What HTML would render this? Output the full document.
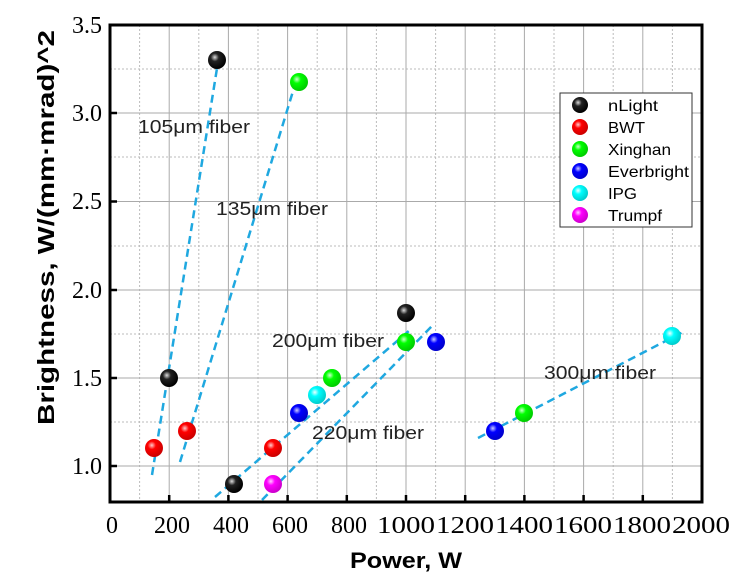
<!DOCTYPE html>
<html><head><meta charset="utf-8"><style>body{margin:0;background:#fff}svg{display:block}</style></head><body>
<svg width="738" height="574" xmlns="http://www.w3.org/2000/svg">
<defs>
<radialGradient id="gk" cx="0.38" cy="0.35" r="0.65"><stop offset="0" stop-color="#ddd"/><stop offset="0.35" stop-color="#222"/><stop offset="1" stop-color="#000"/></radialGradient>
<radialGradient id="gr" cx="0.38" cy="0.35" r="0.65"><stop offset="0" stop-color="#fcc"/><stop offset="0.35" stop-color="#f00"/><stop offset="1" stop-color="#c00"/></radialGradient>
<radialGradient id="gg" cx="0.38" cy="0.35" r="0.65"><stop offset="0" stop-color="#cfc"/><stop offset="0.35" stop-color="#0f0"/><stop offset="1" stop-color="#0c0"/></radialGradient>
<radialGradient id="gb" cx="0.38" cy="0.35" r="0.65"><stop offset="0" stop-color="#ccf"/><stop offset="0.35" stop-color="#00f"/><stop offset="1" stop-color="#00c"/></radialGradient>
<radialGradient id="gc" cx="0.38" cy="0.35" r="0.65"><stop offset="0" stop-color="#eff"/><stop offset="0.35" stop-color="#0ff"/><stop offset="1" stop-color="#0cc"/></radialGradient>
<radialGradient id="gm" cx="0.38" cy="0.35" r="0.65"><stop offset="0" stop-color="#fcf"/><stop offset="0.35" stop-color="#f0f"/><stop offset="1" stop-color="#c0c"/></radialGradient>
</defs>
<g stroke="#bbb" stroke-width="1" stroke-dasharray="2,2">
<line x1="139.6" y1="25" x2="139.6" y2="502"/><line x1="198.8" y1="25" x2="198.8" y2="502"/><line x1="258" y1="25" x2="258" y2="502"/><line x1="317.2" y1="25" x2="317.2" y2="502"/><line x1="376.4" y1="25" x2="376.4" y2="502"/><line x1="435.6" y1="25" x2="435.6" y2="502"/><line x1="494.8" y1="25" x2="494.8" y2="502"/><line x1="554" y1="25" x2="554" y2="502"/><line x1="613.2" y1="25" x2="613.2" y2="502"/><line x1="672.4" y1="25" x2="672.4" y2="502"/>
<line x1="110" y1="69" x2="702" y2="69"/><line x1="110" y1="157" x2="702" y2="157"/><line x1="110" y1="246" x2="702" y2="246"/><line x1="110" y1="334" x2="702" y2="334"/><line x1="110" y1="422" x2="702" y2="422"/>
</g>
<g stroke="#aaa" stroke-width="1">
<line x1="169.2" y1="25" x2="169.2" y2="502"/><line x1="228.4" y1="25" x2="228.4" y2="502"/><line x1="287.6" y1="25" x2="287.6" y2="502"/><line x1="346.8" y1="25" x2="346.8" y2="502"/><line x1="406" y1="25" x2="406" y2="502"/><line x1="465.2" y1="25" x2="465.2" y2="502"/><line x1="524.4" y1="25" x2="524.4" y2="502"/><line x1="583.6" y1="25" x2="583.6" y2="502"/><line x1="642.8" y1="25" x2="642.8" y2="502"/>
<line x1="110" y1="113" x2="702" y2="113"/><line x1="110" y1="201.5" x2="702" y2="201.5"/><line x1="110" y1="290" x2="702" y2="290"/><line x1="110" y1="378" x2="702" y2="378"/><line x1="110" y1="466" x2="702" y2="466"/>
</g>
<g stroke="#000" stroke-width="2.5">
<line x1="169.2" y1="502" x2="169.2" y2="495"/><line x1="228.4" y1="502" x2="228.4" y2="495"/><line x1="287.6" y1="502" x2="287.6" y2="495"/><line x1="346.8" y1="502" x2="346.8" y2="495"/><line x1="406" y1="502" x2="406" y2="495"/><line x1="465.2" y1="502" x2="465.2" y2="495"/><line x1="524.4" y1="502" x2="524.4" y2="495"/><line x1="583.6" y1="502" x2="583.6" y2="495"/><line x1="642.8" y1="502" x2="642.8" y2="495"/>
<line x1="110" y1="113" x2="117" y2="113"/><line x1="110" y1="201.5" x2="117" y2="201.5"/><line x1="110" y1="290" x2="117" y2="290"/><line x1="110" y1="378" x2="117" y2="378"/><line x1="110" y1="466" x2="117" y2="466"/>
</g>
<rect x="110" y="25" width="592" height="477" fill="none" stroke="#000" stroke-width="3"/>
<g stroke="#1fa8e0" stroke-width="2.5" stroke-dasharray="8,5" fill="none">
<line x1="152" y1="475" x2="218" y2="62"/><line x1="180" y1="462" x2="297" y2="78"/><line x1="215" y1="497" x2="410" y2="330"/><line x1="262" y1="500" x2="432" y2="326"/><line x1="478" y1="438" x2="683" y2="332"/>
</g>
<g font-family="Liberation Sans, sans-serif" font-size="18" fill="#222" lengthAdjust="spacingAndGlyphs">
<text x="138" y="133" textLength="112" lengthAdjust="spacingAndGlyphs">105μm fiber</text><text x="216" y="215" textLength="112" lengthAdjust="spacingAndGlyphs">135μm fiber</text><text x="272" y="347" textLength="112" lengthAdjust="spacingAndGlyphs">200μm fiber</text><text x="312" y="439" textLength="112" lengthAdjust="spacingAndGlyphs">220μm fiber</text><text x="544" y="379" textLength="112" lengthAdjust="spacingAndGlyphs">300μm fiber</text>
</g>
<g>
<circle cx="217" cy="60" r="9" fill="url(#gk)"/><circle cx="169" cy="378" r="9" fill="url(#gk)"/><circle cx="406" cy="313" r="9" fill="url(#gk)"/><circle cx="234" cy="484" r="9" fill="url(#gk)"/>
<circle cx="154" cy="448" r="9" fill="url(#gr)"/><circle cx="187" cy="431" r="9" fill="url(#gr)"/><circle cx="273" cy="448" r="9" fill="url(#gr)"/>
<circle cx="299" cy="82" r="9" fill="url(#gg)"/><circle cx="332" cy="378" r="9" fill="url(#gg)"/><circle cx="406" cy="342" r="9" fill="url(#gg)"/><circle cx="524" cy="413" r="9" fill="url(#gg)"/>
<circle cx="299" cy="413" r="9" fill="url(#gb)"/><circle cx="436" cy="342" r="9" fill="url(#gb)"/><circle cx="495" cy="431" r="9" fill="url(#gb)"/>
<circle cx="317" cy="395" r="9" fill="url(#gc)"/><circle cx="672" cy="336" r="9" fill="url(#gc)"/>
<circle cx="273" cy="484" r="9" fill="url(#gm)"/>
</g>
<rect x="560" y="93" width="132" height="134" fill="#fff" stroke="#333" stroke-width="1"/>
<g>
<circle cx="580" cy="105" r="8" fill="url(#gk)"/><circle cx="580" cy="127" r="8" fill="url(#gr)"/><circle cx="580" cy="149" r="8" fill="url(#gg)"/><circle cx="580" cy="171" r="8" fill="url(#gb)"/><circle cx="580" cy="193" r="8" fill="url(#gc)"/><circle cx="580" cy="215" r="8" fill="url(#gm)"/>
</g>
<g font-family="Liberation Sans, sans-serif" font-size="16" fill="#000">
<text x="608" y="111" textLength="50" lengthAdjust="spacingAndGlyphs">nLight</text><text x="608" y="133" textLength="37" lengthAdjust="spacingAndGlyphs">BWT</text><text x="608" y="155" textLength="63" lengthAdjust="spacingAndGlyphs">Xinghan</text><text x="608" y="177" textLength="81" lengthAdjust="spacingAndGlyphs">Everbright</text><text x="608" y="199" textLength="29" lengthAdjust="spacingAndGlyphs">IPG</text><text x="608" y="221" textLength="54" lengthAdjust="spacingAndGlyphs">Trumpf</text>
</g>
<g font-family="Liberation Serif, serif" font-size="24" fill="#000" text-anchor="middle">
<text x="112" y="533">0</text><text x="172" y="533">200</text><text x="231" y="533">400</text><text x="290" y="533">600</text><text x="349" y="533">800</text><text x="406" y="533" textLength="58" lengthAdjust="spacingAndGlyphs">1000</text><text x="465" y="533" textLength="58" lengthAdjust="spacingAndGlyphs">1200</text><text x="524" y="533" textLength="58" lengthAdjust="spacingAndGlyphs">1400</text><text x="583" y="533" textLength="58" lengthAdjust="spacingAndGlyphs">1600</text><text x="642" y="533" textLength="58" lengthAdjust="spacingAndGlyphs">1800</text><text x="701" y="533" textLength="58" lengthAdjust="spacingAndGlyphs">2000</text>
</g>
<g font-family="Liberation Serif, serif" font-size="24" fill="#000" text-anchor="end">
<text x="102" y="33">3.5</text><text x="102" y="121">3.0</text><text x="102" y="209">2.5</text><text x="102" y="298">2.0</text><text x="102" y="386">1.5</text><text x="102" y="474">1.0</text>
</g>
<text x="350" y="568" font-family="Liberation Sans, sans-serif" font-size="22" font-weight="bold" textLength="112" lengthAdjust="spacingAndGlyphs">Power, W</text>
<text transform="translate(54,425) rotate(-90)" font-family="Liberation Sans, sans-serif" font-size="23" font-weight="bold" textLength="395" lengthAdjust="spacingAndGlyphs">Brightness, W/(mm·mrad)^2</text>
</svg>
</body></html>
